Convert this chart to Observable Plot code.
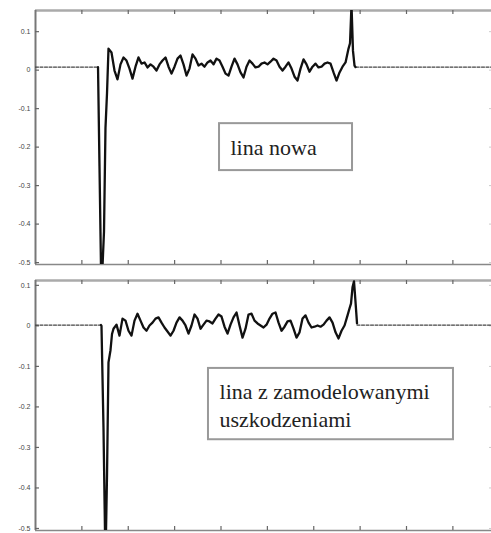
<!DOCTYPE html>
<html>
<head>
<meta charset="utf-8">
<script src="https://cdn.jsdelivr.net/npm/d3@7"></script>
<script src="https://cdn.jsdelivr.net/npm/@observablehq/plot@0.6"></script>
<style>
  html, body { margin: 0; padding: 0; background: #fff; }
  #chart svg { display: block; }
  #chart g.note-text text { font-family: "Liberation Serif", "Times New Roman", serif !important; }
</style>
</head>
<body>
<div id="chart"></div>
<script>
// Axis ticks
const xTicks = [1, 2, 3, 4, 5, 6, 7, 8, 9];
const yTicks = [0.1, 0, -0.1, -0.2, -0.3, -0.4, -0.5];

// Sampling step of the oscillating part (time units of the x axis)
const oscStep = 0.0647;

// ---- Top panel: "lina nowa" ----
const topBefore = [[0, 0.008], [1.348, 0.008]];
const topDrop = [[1.348, 0.008], [1.380, -0.25], [1.412, -0.51], [1.445, -0.51], [1.477, -0.42], [1.509, -0.15], [1.542, -0.06]];
const topOscStart = 1.574;
const topOsc = [
  0.056, 0.046, -0.001, -0.024, 0.015, 0.033, 0.025, 0.004, -0.022, 0.009,
  0.033, 0.017, 0.020, 0.007, 0.015, 0.009, -0.001, 0.015, 0.025, 0.033,
  0.009, -0.009, 0.009, 0.030, 0.038, 0.015, -0.014, 0.004, 0.041, 0.030,
  0.012, 0.017, 0.009, 0.020, 0.025, 0.015, 0.030, 0.025, 0.009, -0.009,
  -0.014, 0.009, 0.030, 0.015, -0.006, -0.019, 0.009, 0.025, 0.017, 0.007,
  0.009, 0.017, 0.020, 0.015, 0.022, 0.030, 0.025, 0.009, -0.001, 0.009,
  0.020, 0.004, -0.017, -0.027, 0.004, 0.028, 0.015, -0.004, 0.009, 0.017,
  0.007, 0.009, 0.017, 0.020, 0.017, -0.006, -0.027, -0.006, 0.009, 0.020,
  0.056
];
const topSpike = [[6.782, 0.07], [6.814, 0.17], [6.846, 0.05], [6.879, 0.012], [6.900, 0.008]];
const topAfter = [[6.900, 0.008], [9.9, 0.008]];

// ---- Bottom panel: "lina z zamodelowanymi uszkodzeniami" ----
const botBefore = [[0, 0.002], [1.412, 0.002]];
const botDrop = [[1.412, 0.002], [1.423, 0.0], [1.466, -0.25], [1.499, -0.51], [1.520, -0.51], [1.542, -0.37], [1.574, -0.09], [1.617, -0.06], [1.650, -0.02]];
const botOscStart = 1.682;
const botOsc = [
  -0.007, 0.003, -0.024, 0.018, 0.013, -0.012, -0.024, 0.013, 0.030, 0.013,
  -0.004, -0.012, 0.001, 0.008, 0.018, 0.021, 0.008, -0.004, -0.014, -0.024,
  -0.012, 0.008, 0.021, 0.013, 0.001, -0.019, 0.001, 0.028, 0.018, -0.007,
  0.003, 0.013, 0.011, 0.006, 0.018, 0.028, 0.023, -0.002, -0.019, 0.003,
  0.021, 0.033, 0.001, -0.029, -0.007, 0.028, 0.030, 0.013, 0.006, 0.001,
  -0.004, 0.003, 0.018, 0.030, 0.033, 0.008, -0.012, -0.002, 0.011, 0.013,
  -0.007, -0.029, -0.016, 0.018, 0.026, 0.008, -0.004, -0.002, 0.001, -0.002,
  0.003, 0.013, 0.021, 0.008, -0.016, -0.031, -0.012, 0.001, 0.026
];
const botSpike = [[6.771, 0.043], [6.803, 0.055], [6.836, 0.095], [6.868, 0.11], [6.900, 0.06], [6.933, 0.006]];
const botAfter = [[6.933, 0.002], [9.9, 0.002]];

// Annotation boxes (in data units)
const topNote = {text: "lina nowa", tx: 4.205, ty: -0.168, x1: 3.968, x2: 6.836, y1: -0.139, y2: -0.261};
const botNote = {text: "lina z zamodelowanymi\nuszkodzeniami", tx: 3.968, ty: -0.131, x1: 3.730, x2: 9.013, y1: -0.105, y2: -0.281};

const W = 491, ML = 35, PX = 46.375;

function panel({before, drop, oscStart, osc, spike, after, yDomain, height, marginTop, marginBottom, note}) {
  const active = [...drop, ...osc.map((v, i) => [oscStart + i * oscStep, v]), ...spike];
  const plotH = height - marginTop - marginBottom;
  const plotW = W - ML;
  const fmt = d => String(Math.round(d * 10) / 10);
  const svg = Plot.plot({
    width: W, height, marginLeft: ML, marginRight: 0, marginTop, marginBottom,
    style: {background: "white", overflow: "visible", fontFamily: "Liberation Sans"},
    x: {domain: [0, plotW / PX], axis: null},
    y: {domain: yDomain},
    marks: [
      Plot.ruleY([yDomain[1]], {stroke: "#aaa", strokeWidth: 2.5}),
      Plot.ruleY([yDomain[0]], {stroke: "#888", strokeWidth: 1.5}),
      Plot.ruleX([0], {stroke: "#777", strokeWidth: 2}),
      Plot.tickX(xTicks, {x: d => d, insetBottom: plotH - 4, stroke: "#666", strokeWidth: 1.2}),
      Plot.tickX(xTicks, {x: d => d, insetTop: plotH - 4, stroke: "#666", strokeWidth: 1.2}),
      Plot.tickY(yTicks, {y: d => d, insetRight: plotW - 4, stroke: "#666", strokeWidth: 1.2}),
      Plot.tickY(yTicks, {y: d => d, insetLeft: plotW - 2, stroke: "#ccc"}),
      Plot.axisY(yTicks, {tickSize: 0, tickPadding: 5, fontSize: 7, fill: "#444", tickFormat: fmt}),
      Plot.line(before, {x: d => d[0], y: d => d[1], stroke: "#444", strokeWidth: 1.2, strokeDasharray: "3,1.5"}),
      Plot.line(after, {x: d => d[0], y: d => d[1], stroke: "#444", strokeWidth: 1.2, strokeDasharray: "3,1.5", clip: true}),
      Plot.line(active, {x: d => d[0], y: d => d[1], stroke: "#111", strokeWidth: 2.3, strokeLinejoin: "round", clip: true}),
      Plot.rect([note], {x1: "x1", x2: "x2", y1: "y1", y2: "y2", fill: "white", stroke: "#999", strokeWidth: 2}),
      Plot.text([note], {x: "tx", y: "ty", text: "text", textAnchor: "start", lineAnchor: "top",
        fontSize: 22, fontFamily: "Liberation Serif", fill: "#222", lineHeight: 1.27})
    ]
  });
  // tag the annotation text group so the serif face is enforced
  d3.select(svg).selectAll("g[aria-label='text']").classed("note-text", true);
  return svg;
}

const chart = document.getElementById("chart");
chart.append(panel({
  before: topBefore, drop: topDrop, oscStart: topOscStart, osc: topOsc, spike: topSpike, after: topAfter,
  yDomain: [-0.505, 0.155], height: 272, marginTop: 10, marginBottom: 8, note: topNote
}));
chart.append(panel({
  before: botBefore, drop: botDrop, oscStart: botOscStart, osc: botOsc, spike: botSpike, after: botAfter,
  yDomain: [-0.505, 0.112], height: 261, marginTop: 8, marginBottom: 3, note: botNote
}));
</script>
</body>
</html>
